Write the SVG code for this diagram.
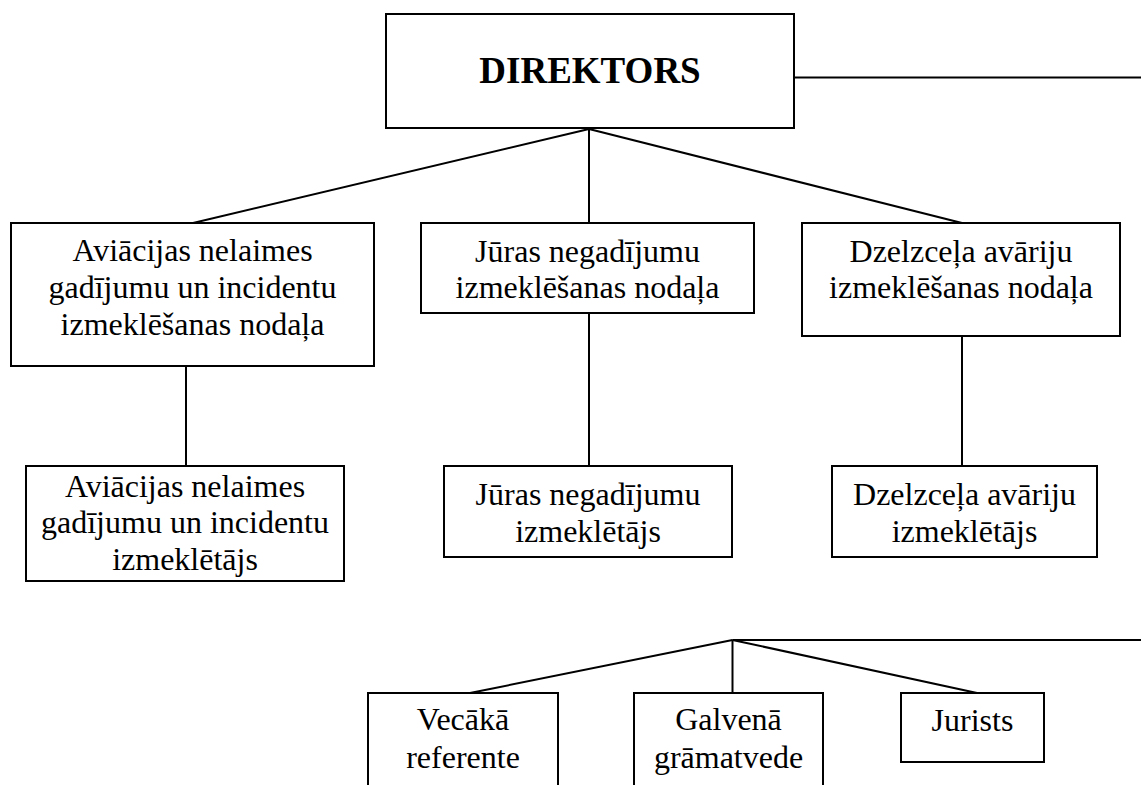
<svg xmlns="http://www.w3.org/2000/svg" width="1141" height="785" viewBox="0 0 1141 785">
<style>
.n rect{fill:#fff;stroke:#000;stroke-width:2}
line{stroke:#000;stroke-width:2}
text{font-family:'Liberation Serif','DejaVu Serif',serif;font-size:32px;fill:#000;text-anchor:middle}
.b{font-weight:bold;font-size:37px}
</style>
<rect width="1141" height="785" fill="#fff"/>
<g id="connectors">
<line x1="794" y1="77.5" x2="1141" y2="77.5"/>
<line x1="589" y1="129" x2="193" y2="223"/>
<line x1="589" y1="129" x2="589" y2="223"/>
<line x1="589" y1="129" x2="962" y2="223"/>
<line x1="186" y1="366" x2="186" y2="466"/>
<line x1="589" y1="313" x2="589" y2="466"/>
<line x1="962" y1="336" x2="962" y2="466"/>
<line x1="732.5" y1="640" x2="1141" y2="640"/>
<line x1="732.5" y1="640" x2="470" y2="693"/>
<line x1="732.5" y1="640" x2="732.5" y2="693"/>
<line x1="732.5" y1="640" x2="977" y2="693"/>
</g>
<g id="director" class="n">
<rect x="386" y="14" width="408" height="114"/>
<text class="b" x="590" y="83">DIREKTORS</text>
</g>
<g id="avi-nodala" class="n">
<rect x="11" y="223" width="363" height="143"/>
<text x="192.5" y="261">Aviācijas nelaimes</text>
<text x="192.5" y="298">gadījumu un incidentu</text>
<text x="192.5" y="335">izmeklēšanas nodaļa</text>
</g>
<g id="juras-nodala" class="n">
<rect x="421" y="223" width="333" height="90"/>
<text x="587.5" y="262">Jūras negadījumu</text>
<text x="587.5" y="298">izmeklēšanas nodaļa</text>
</g>
<g id="dzelz-nodala" class="n">
<rect x="802" y="223" width="318" height="113"/>
<text x="961" y="262">Dzelzceļa avāriju</text>
<text x="961" y="298">izmeklēšanas nodaļa</text>
</g>
<g id="avi-izm" class="n">
<rect x="26" y="466" width="318" height="115"/>
<text x="185" y="497">Aviācijas nelaimes</text>
<text x="185" y="533">gadījumu un incidentu</text>
<text x="185" y="570">izmeklētājs</text>
</g>
<g id="juras-izm" class="n">
<rect x="444" y="466" width="288" height="91"/>
<text x="588" y="505">Jūras negadījumu</text>
<text x="588" y="542">izmeklētājs</text>
</g>
<g id="dzelz-izm" class="n">
<rect x="832" y="466" width="265" height="91"/>
<text x="964.5" y="505">Dzelzceļa avāriju</text>
<text x="964.5" y="542">izmeklētājs</text>
</g>
<g id="vecaka" class="n">
<rect x="368" y="693" width="190" height="120"/>
<text x="463" y="730">Vecākā</text>
<text x="463" y="768">referente</text>
</g>
<g id="galvena" class="n">
<rect x="634" y="693" width="189" height="120"/>
<text x="728.5" y="730">Galvenā</text>
<text x="728.5" y="768">grāmatvede</text>
</g>
<g id="jurists" class="n">
<rect x="901" y="693" width="143" height="69"/>
<text x="972.5" y="731">Jurists</text>
</g>
</svg>
